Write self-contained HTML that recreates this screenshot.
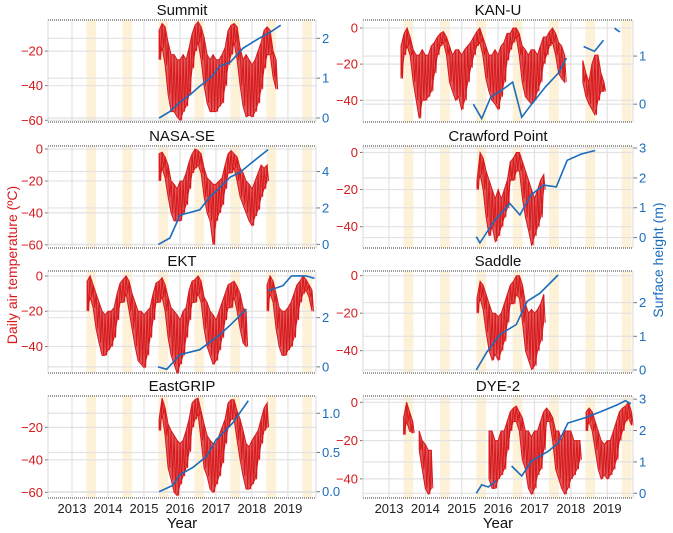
<!DOCTYPE html>
<html><head><meta charset="utf-8"><style>
html,body{margin:0;padding:0;background:#fff;}
svg{display:block;font-family:"Liberation Sans",Arial,sans-serif;}
</style></head><body>
<svg id="chart" width="673" height="533" viewBox="0 0 673 533"></svg>
<script>
// ---- data (years, °C, m) ----
const yearTicks=[2013,2014,2015,2016,2017,2018,2019];
const summerStarts=[2013.4,2014.4,2015.4,2016.4,2017.4,2018.4,2019.4];
const stationNames=["Summit","KAN-U","NASA-SE","Crawford Point","EKT","Saddle","EastGRIP","DYE-2"];

const summitT0=[2015.42];
const summitHi=[[-8,-4,-6,-15,-22,-22,-25,-25,-22,-25,-18,-10,-5,-3,-6,-12,-22,-25,-22,-25,-25,-22,-18,-8,-5,-4,-6,-18,-25,-22,-25,-28,-25,-20,-15,-8,-6,-8,-20,-25]];
const summitLo=[[-25,-18,-28,-45,-55,-55,-58,-60,-55,-52,-45,-30,-20,-15,-25,-40,-50,-55,-55,-55,-52,-50,-40,-28,-22,-15,-25,-40,-52,-58,-57,-58,-55,-50,-42,-30,-22,-22,-35,-42]];
const summitShT=[2015.42,2015.7,2016.0,2016.3,2016.55,2016.9,2017.1,2017.4,2017.75,2018.2,2018.5,2018.8];
const summitShV=[0,0.15,0.4,0.6,0.8,1.05,1.3,1.4,1.75,2.0,2.15,2.33];

const kanuT0=[2013.33,2018.33];
const kanuHi=[[-10,-3,0,-5,-12,-15,-15,-12,-15,-15,-10,-8,-5,-3,-2,-5,-10,-15,-12,-12,-15,-12,-10,-8,-5,-2,0,-5,-10,-15,-15,-12,-15,-10,-8,-3,-3,0,0,-3,-10,-12,-15,-12,-12,-15,-10,-5,-5,-2,0,-3,-8,-10,-15],[-18,-25,-30,-20,-15,-15,-25,-30]];
const kanuLo=[[-28,-15,-10,-15,-30,-40,-50,-40,-40,-38,-35,-25,-15,-10,-8,-15,-30,-35,-40,-38,-45,-40,-30,-22,-15,-10,-8,-15,-28,-35,-40,-42,-45,-38,-30,-18,-12,-8,-5,-15,-30,-38,-40,-42,-40,-35,-30,-20,-15,-10,-8,-15,-25,-28,-30],[-30,-38,-42,-45,-48,-40,-35,-35]];
const kanuShT=[2015.32,2015.55,2015.8,2016.1,2016.4,2016.65,2016.92,2017.3,2017.65,2017.88,null,2018.35,2018.65,2018.9,null,2019.2,2019.35];
const kanuShV=[0,-0.3,0.15,0.29,0.46,-0.27,0,0.36,0.64,0.96,null,1.2,1.1,1.33,null,1.58,1.5];

const nasaT0=[2015.42];
const nasaHi=[[-3,-2,-5,-10,-20,-22,-25,-20,-20,-15,-8,-3,0,-1,-3,-12,-18,-20,-22,-22,-20,-18,-10,-3,-1,-3,-5,-12,-15,-20,-22,-25,-20,-15,-10,-12,-10]];
const nasaLo=[[-20,-12,-18,-30,-40,-45,-45,-45,-40,-35,-25,-15,-12,-10,-15,-30,-40,-45,-60,-45,-40,-35,-25,-15,-15,-12,-20,-30,-35,-40,-45,-48,-42,-38,-30,-25,-20]];
const nasaShT=[2015.4,2015.72,2016.0,2016.55,2016.83,2017.1,2017.4,2017.67,2017.94,2018.45];
const nasaShV=[0,0.35,1.6,1.9,2.6,3.1,3.7,3.95,4.4,5.2];

const crawT0=[2015.42];
const crawHi=[[-15,0,-3,-10,-15,-20,-25,-20,-25,-20,-15,-5,-3,0,0,-5,-10,-15,-20,-25,-20,-15,-12]];
const crawLo=[[-20,-12,-20,-35,-45,-40,-48,-45,-40,-35,-30,-15,-15,-10,-10,-25,-35,-42,-50,-45,-40,-35,-20]];
const crawShT=[2015.4,2015.5,2015.88,2016.32,2016.6,2016.9,2017.25,2017.6,2017.9,2018.28,2018.67];
const crawShV=[0.03,-0.18,0.53,1.15,0.76,1.42,1.76,1.7,2.59,2.8,2.92];

const ektT0=[2013.42,2018.42];
const ektHi=[[-3,0,-5,-10,-15,-20,-22,-20,-20,-18,-10,-4,-2,0,-3,-10,-15,-20,-20,-22,-20,-18,-10,-4,-3,-1,-5,-12,-18,-20,-22,-25,-20,-18,-8,-3,-2,0,-3,-12,-15,-20,-22,-25,-20,-15,-10,-5,-4,-3,-6,-10,-18,-20],[-5,0,-3,-10,-18,-20,-20,-18,-15,-10,-5,-3,0,-2,-5,-8]];
const ektLo=[[-20,-12,-18,-30,-38,-45,-45,-42,-40,-35,-25,-15,-15,-10,-20,-30,-40,-48,-50,-52,-45,-35,-25,-15,-15,-12,-20,-35,-45,-50,-55,-50,-45,-35,-25,-15,-15,-10,-15,-30,-40,-45,-50,-48,-42,-35,-25,-18,-18,-12,-20,-30,-38,-40],[-20,-10,-15,-30,-40,-45,-45,-42,-40,-35,-25,-15,-10,-8,-12,-20]];
const ektShT=[2015.39,2015.63,2016.0,2016.55,2017.1,2017.4,2017.85,null,2018.44,2018.86,2019.1,2019.5,2019.74];
const ektShV=[0,-0.1,0.5,0.7,1.3,1.7,2.35,null,3.1,3.3,3.7,3.7,3.6];

const saddleT0=[2015.42];
const saddleHi=[[-12,-3,-5,-10,-15,-20,-20,-22,-20,-15,-10,-5,-3,0,0,-5,-15,-20,-18,-20,-18,-15,-10]];
const saddleLo=[[-20,-12,-18,-30,-40,-45,-42,-45,-40,-35,-25,-15,-15,-10,-12,-25,-40,-45,-50,-48,-40,-35,-25]];
const saddleShT=[2015.4,2015.7,2016.05,2016.5,2016.8,2017.15,2017.65];
const saddleShV=[0,0.55,1.05,1.35,2.04,2.28,2.82];

const egripT0=[2015.42];
const egripHi=[[-15,-2,-8,-18,-22,-25,-28,-30,-28,-22,-15,-5,-3,-2,-10,-18,-25,-28,-30,-30,-25,-20,-15,-5,-3,-3,-10,-15,-22,-30,-32,-28,-25,-22,-15,-8,-5]];
const egripLo=[[-22,-12,-25,-45,-52,-60,-62,-55,-50,-45,-35,-20,-15,-12,-28,-45,-50,-58,-60,-55,-50,-42,-30,-20,-15,-15,-28,-40,-50,-58,-58,-55,-52,-40,-30,-22,-20]];
const egripShT=[2015.42,2015.8,2016.0,2016.36,2016.74,2017.0,2017.2,2017.47,2017.9];
const egripShV=[0,0.08,0.22,0.31,0.45,0.66,0.75,0.88,1.16];

const dyeT0=[2013.4,2013.83,2015.75,2018.42];
const dyeHi=[[-8,0,-5,-10],[-15,-20,-22,-25,-25],[-15,-15,-20,-20,-15,-15,-10,-5,-3,-2,-5,-8,-15,-15,-18,-15,-15,-10,-5,-3,-5,-8,-15,-15,-20,-15,-15,-15,-20,-20,-20],[-5,-3,-5,-10,-15,-20,-22,-20,-20,-15,-10,-5,-3,-2,0,-5]];
const dyeLo=[[-17,-10,-15,-16],[-25,-35,-45,-48,-45],[-40,-45,-45,-40,-38,-35,-25,-15,-10,-10,-15,-30,-35,-45,-48,-45,-38,-35,-25,-10,-10,-20,-35,-40,-45,-48,-45,-40,-38,-35,-30],[-15,-10,-15,-25,-35,-40,-38,-40,-38,-35,-30,-20,-15,-10,-8,-12]];
const dyeShT=[2015.4,2015.55,2015.73,2015.95,null,2016.37,2016.65,2016.92,2017.38,2017.65,2017.92,2018.37,2018.82,2019.28,2019.5,2019.65];
const dyeShV=[0,0.27,0.2,0.4,null,0.87,0.55,1.03,1.34,1.6,2.24,2.4,2.6,2.82,2.95,2.85];

// ---- layout ----
const RED="#d7191c", BLUE="#1a6cbd", NS="http://www.w3.org/2000/svg";
const svg=document.getElementById("chart");
function mk(tag,attrs,parent){const e=document.createElementNS(NS,tag);for(const k in attrs)e.setAttribute(k,attrs[k]);(parent||svg).appendChild(e);return e;}

const panels=[
 {name:"summit",x:48,y:20,xd:[2012.333,2019.78],td:[-61,-2],hd:[-0.1,2.46],lt:[-60,-40,-20],rt:[0,1,2],rf:0,t0:summitT0,hi:summitHi,lo:summitLo,st:summitShT,sv:summitShV},
 {name:"kan-u",x:363,y:20,xd:[2012.284,2019.71],td:[-52,4.4],hd:[-0.37,1.75],lt:[-40,-20,0],rt:[0,1],rf:0,t0:kanuT0,hi:kanuHi,lo:kanuLo,st:kanuShT,sv:kanuShV},
 {name:"nasa-se",x:48,y:146,xd:[2012.333,2019.78],td:[-62,1.9],hd:[-0.2,5.4],lt:[-60,-40,-20,0],rt:[0,2,4],rf:0,t0:nasaT0,hi:nasaHi,lo:nasaLo,st:nasaShT,sv:nasaShV},
 {name:"crawford-point",x:363,y:146,xd:[2012.284,2019.71],td:[-51.5,3.5],hd:[-0.35,3.07],lt:[-40,-20,0],rt:[0,1,2,3],rf:0,t0:crawT0,hi:crawHi,lo:crawLo,st:crawShT,sv:crawShV},
 {name:"ekt",x:48,y:271,xd:[2012.333,2019.78],td:[-55,2.8],hd:[-0.25,3.9],lt:[-40,-20,0],rt:[0,2],rf:0,t0:ektT0,hi:ektHi,lo:ektLo,st:ektShT,sv:ektShV},
 {name:"saddle",x:363,y:271,xd:[2012.284,2019.71],td:[-51.9,2.5],hd:[-0.09,2.94],lt:[-40,-20,0],rt:[0,1,2],rf:0,t0:saddleT0,hi:saddleHi,lo:saddleLo,st:saddleShT,sv:saddleShV},
 {name:"eastgrip",x:48,y:396,xd:[2012.333,2019.78],td:[-63.5,-0.7],hd:[-0.08,1.22],lt:[-60,-40,-20],rt:[0,0.5,1],rf:1,t0:egripT0,hi:egripHi,lo:egripLo,st:egripShT,sv:egripShV},
 {name:"dye-2",x:363,y:396,xd:[2012.284,2019.71],td:[-50,3.3],hd:[-0.15,3.1],lt:[-40,-20,0],rt:[0,1,2,3],rf:0,t0:dyeT0,hi:dyeHi,lo:dyeLo,st:dyeShT,sv:dyeShV}
];
const PH=102;

panels.forEach((p,pi)=>{
 const w=(p.x<100)?268:270;
 const X=t=>p.x+(t-p.xd[0])/(p.xd[1]-p.xd[0])*w;
 const YT=v=>p.y+PH-(v-p.td[0])/(p.td[1]-p.td[0])*PH;
 const YH=v=>p.y+PH-(v-p.hd[0])/(p.hd[1]-p.hd[0])*PH;
 const g=mk("g",{});
 
 
 summerStarts.forEach(s=>{
  const r=mk("rect",{x:X(s),y:p.y,width:X(s+0.27)-X(s),height:PH,fill:"#fdf1d8"},g);
  
  
 });
 yearTicks.forEach(t=>{
  const l=mk("line",{x1:X(t),x2:X(t),y1:p.y,y2:p.y+PH,stroke:"#e2e2e2","stroke-width":1.2},g);
  
  
 });
 p.lt.forEach(v=>{
  const l=mk("line",{x1:p.x,x2:p.x+w,y1:YT(v),y2:YT(v),stroke:"#e2e2e2","stroke-width":1.2},g);
  
  
  const tk=mk("line",{x1:p.x-3,x2:p.x,y1:YT(v),y2:YT(v),stroke:"#777"},g);
  
  
  const tx=mk("text",{x:p.x-5,y:YT(v)+4.5,"text-anchor":"end","font-size":13,fill:RED},g);
  tx.textContent=(v<0?"\u2212"+(-v):""+v);
  
  
 });
 p.rt.forEach(v=>{
  const l=mk("line",{x1:p.x,x2:p.x+w,y1:YH(v),y2:YH(v),stroke:"#e2e2e2","stroke-width":1.2},g);
  
  
  const tk=mk("line",{x1:p.x+w,x2:p.x+w+4,y1:YH(v),y2:YH(v),stroke:"#777"},g);
  
  
  const tx=mk("text",{x:p.x+w+6,y:YH(v)+4.5,"font-size":13,fill:BLUE},g);
  tx.textContent=p.rf?v.toFixed(1):""+v;
  
  
 });
 [[p.y],[p.y+PH]].forEach(([yy])=>{
  const l=mk("line",{x1:p.x,x2:p.x+w,y1:yy,y2:yy,stroke:"#999","stroke-width":2,"stroke-dasharray":"1,1"},g);
  
  
 });
 [p.x,p.x+w].forEach(xx=>{
  const l=mk("line",{x1:xx,x2:xx,y1:p.y,y2:p.y+PH,stroke:"#d8d8d8","stroke-width":1},g);
  
  
 });
 p.t0.forEach((t0,si)=>{
  const hi=p.hi[si], lo=p.lo[si];
  let up=[],dn=[],zz=[];
  hi.forEach((v,i)=>{const t=t0+i/12;up.push(X(t).toFixed(1)+","+YT(v).toFixed(1));});
  lo.forEach((v,i)=>{const t=t0+i/12;dn.unshift(X(t).toFixed(1)+","+YT(v).toFixed(1));});
  hi.forEach((v,i)=>{
   const t=t0+i/12;
   zz.push(X(t).toFixed(1)+","+YT(v).toFixed(1));
   if(i<lo.length) zz.push(X(t+1/24).toFixed(1)+","+YT(lo[i]).toFixed(1));
  });
  const poly=mk("polygon",{points:up.concat(dn).join(" "),fill:RED,"fill-opacity":0.72,stroke:RED,"stroke-width":1},g);
  
  
  const pl=mk("polyline",{points:zz.join(" "),fill:"none",stroke:RED,"stroke-width":1},g);
  
  
 });
 let d="",pen=false;
 p.st.forEach((t,i)=>{
  if(t===null){pen=false;return;}
  d+=(pen?"L":"M")+X(t).toFixed(1)+","+YH(p.sv[i]).toFixed(1);pen=true;
 });
 const sh=mk("path",{d:d,fill:"none",stroke:BLUE,"stroke-width":1.6},g);
 
 
 const tt=mk("text",{x:p.x+w/2,y:p.y-5,"text-anchor":"middle","font-size":15,fill:"#111"},g);
 tt.textContent=stationNames[pi];
 
 
 if(pi>=6){
  yearTicks.forEach(t=>{
   const tx=mk("text",{x:X(t),y:p.y+PH+15,"text-anchor":"middle","font-size":13,fill:"#222"},g);
   tx.textContent=t;
   
   
  });
  const xt=mk("text",{x:p.x+w/2,y:p.y+PH+30,"text-anchor":"middle","font-size":15,fill:"#111"},g);
  xt.textContent="Year";
  
  
 }
});
const yl=mk("text",{x:17,y:265,"text-anchor":"middle","font-size":14,fill:RED,transform:"rotate(-90 17 265)"});
yl.textContent="Daily air temperature (\u00BAC)";


const yr=mk("text",{x:663,y:260,"text-anchor":"middle","font-size":14,fill:BLUE,transform:"rotate(-90 663 260)"});
yr.textContent="Surface height (m)";


</script>
</body></html>
